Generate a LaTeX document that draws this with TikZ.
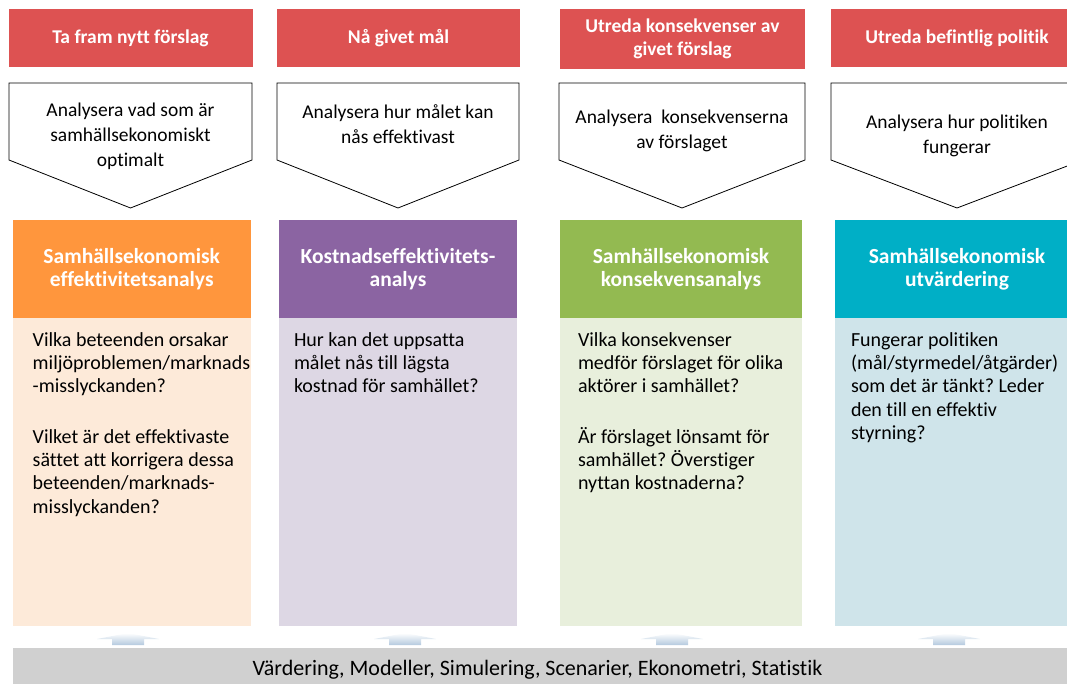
\documentclass[tikz,border=0pt]{standalone}
\usepackage{fontspec}
\setmainfont{Carlito}[Ligatures={NoCommon}]
\usepackage{tikz}
\usetikzlibrary{positioning}
\frenchspacing

\definecolor{taskred}{HTML}{DD5252}
\definecolor{orangehead}{HTML}{FF963D}
\definecolor{purplehead}{HTML}{8B64A2}
\definecolor{greenhead}{HTML}{93BA51}
\definecolor{tealhead}{HTML}{00AFC6}
\definecolor{orangebody}{HTML}{FDEAD9}
\definecolor{purplebody}{HTML}{DDD7E4}
\definecolor{greenbody}{HTML}{E8EFDC}
\definecolor{tealbody}{HTML}{CFE4EA}
\definecolor{bargrey}{HTML}{D0D0D0}
\definecolor{liftblue}{HTML}{B4C9DE}

\begin{document}
\begin{tikzpicture}[x=1pt, y=-1pt,
	task/.style = {fill=taskred, text=white, font=\fontsize{19.5}{23}\selectfont\bfseries, align=center, minimum height=58pt, inner sep=0pt},
	method/.style = {text=white, font=\fontsize{21.5}{23}\selectfont\bfseries, align=center, minimum height=98pt, inner sep=0pt},
	body/.style = {minimum height=308pt, inner sep=0pt},
	goal/.style = {font=\fontsize{19.5}{25}\selectfont, align=center, inner sep=0pt},
	ask/.style = {font=\fontsize{20}{23.3}\selectfont, align=left, inner sep=0pt, anchor=north west},
	pent/.style = {draw=black, line width=0.8pt, fill=white},
	lift/.style = {top color=white, bottom color=liftblue}]
	\useasboundingbox (0,0) rectangle (1067,684);
	\clip (0,0) rectangle (1067,684);

	% red task boxes
	\node[task, minimum width=244pt] (t1) at (130.5,38) {Ta fram nytt förslag};
	\node[task, minimum width=243pt] (t2) at (398.5,38) {Nå givet mål};
	\node[task, minimum width=245pt, minimum height=60pt] (t3) at (682.5,39) {Utreda konsekvenser av\\givet förslag};
	\node[task, minimum width=252pt] (t4) at (957,38) {Utreda befintlig politik};

	% pentagons
	\foreach \c/\w in {130.5/243, 398/242, 682/246, 957/252}
		\draw[pent] (\c-\w/2,83) -- ++(\w,0) -- ++(0,77) -- (\c,208) -- (\c-\w/2,160) -- cycle;
	\node[goal] (g1) at (130.5,136) {Analysera vad som är\\samhällsekonomiskt\\optimalt};
	\node[goal] (g2) at (398,124) {Analysera hur målet kan\\nås effektivast};
	\node[goal] (g3) at (682,130.5) {Analysera\ \ konsekvenserna\\av förslaget};
	\node[goal] (g4) at (957,135.5) {Analysera hur politiken\\fungerar};

	% method headers and bodies
	\node[method, fill=orangehead, minimum width=238pt] (m1) at (131.7,269) {Samhällsekonomisk\\effektivitetsanalys};
	\node[method, fill=purplehead, minimum width=238pt] (m2) at (398,269) {Kostnadseffektivitets-\\analys};
	\node[method, fill=greenhead, minimum width=242pt] (m3) at (681,269) {Samhällsekonomisk\\konsekvensanalys};
	\node[method, fill=tealhead, minimum width=244pt] (m4) at (957,269) {Samhällsekonomisk\\utvärdering};
	\node[body, fill=orangebody, minimum width=238pt, below=0pt of m1] (b1) {};
	\node[body, fill=purplebody, minimum width=238pt, below=0pt of m2] (b2) {};
	\node[body, fill=greenbody, minimum width=242pt, below=0pt of m3] (b3) {};
	\node[body, fill=tealbody, minimum width=244pt, below=0pt of m4] (b4) {};

	\node[ask] (q1) at ([xshift=20pt, yshift=-14pt]b1.north west) {Vilka beteenden orsakar\\miljöproblemen/marknads\\-misslyckanden?\\[27pt]Vilket är det effektivaste\\sättet att korrigera dessa\\beteenden/marknads-\\misslyckanden?};
	\node[ask] (q2) at ([xshift=15pt, yshift=-14pt]b2.north west) {Hur kan det uppsatta\\målet nås till lägsta\\kostnad för samhället?};
	\node[ask] (q3) at ([xshift=18pt, yshift=-14pt]b3.north west) {Vilka konsekvenser\\medför förslaget för olika\\aktörer i samhället?\\[27pt]Är förslaget lönsamt för\\samhället? Överstiger\\nyttan kostnaderna?};
	\node[ask] (q4) at ([xshift=16pt, yshift=-14pt]b4.north west) {Fungerar politiken\\(mål/styrmedel/åtgärder)\\som det är tänkt? Leder\\den till en effektiv\\styrning?};

	% methods bar
	\foreach \c in {128, 405, 672, 949}
		\shade[lift] (\c,633) -- (\c+31,639) -- (\c+16,639) -- (\c+16,645) -- (\c-16,645) -- (\c-16,639) -- (\c-31,639) -- cycle;
	\node[fill=bargrey, minimum width=1070pt, minimum height=42pt, inner sep=0pt, anchor=north west] (bar) at (13,648) {};
	\node[font=\fontsize{22}{24}\selectfont, inner sep=0pt] (tools) at (537.5,670) {Värdering, Modeller, Simulering, Scenarier, Ekonometri, Statistik};
\end{tikzpicture}
\end{document}
